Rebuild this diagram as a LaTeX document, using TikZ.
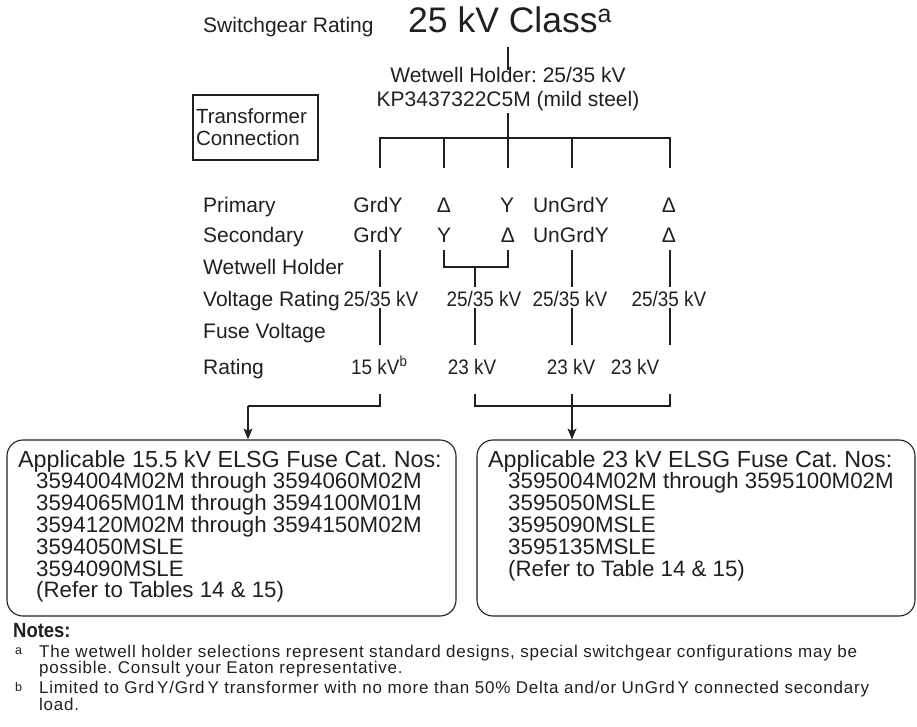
\documentclass[tikz,border=0pt]{standalone}
\usepackage{fontspec}
\setmainfont{Liberation Sans}
\newfontfamily\condfont[FakeStretch=0.9]{Liberation Sans}
\newfontfamily\notefont[LetterSpace=4.5]{Liberation Sans}
\usetikzlibrary{arrows.meta,positioning,calc}

\definecolor{ink}{HTML}{231F20}

\tikzset{
  wire/.style={draw=ink, line width=1.1pt},
  feed/.style={wire, -{Stealth[length=11pt,width=9pt,inset=2.5pt]}},
  rowlbl/.style={anchor=base west, inner sep=0pt, text=ink, font=\fontsize{21}{25}\selectfont},
  conn/.style={anchor=base, inner sep=0pt, text=ink, font=\fontsize{21}{25}\selectfont},
  kvval/.style={anchor=base, inner sep=0pt, text=ink, font=\condfont\fontsize{21}{25}\selectfont},
  classlbl/.style={anchor=base west, inner sep=0pt, text=ink, font=\fontsize{35.5}{40}\selectfont},
  tcbox/.style={draw=ink, line width=1.1pt, minimum width=125pt, minimum height=65pt,
    text width=119pt, inner sep=3pt, align=left, text=ink, font=\fontsize{20.5}{22}\selectfont},
  catbox/.style={draw=ink, line width=1.1pt, rounded corners=16pt, minimum height=176pt},
  cattext/.style={anchor=base west, inner sep=0pt, text=ink, font=\fontsize{23.3}{25}\selectfont},
  catitem/.style={cattext, font=\fontsize{22.3}{25}\selectfont},
  notetext/.style={anchor=base west, inner sep=0pt, text=ink, font=\notefont\fontsize{17}{18}\selectfont},
  notemark/.style={anchor=base west, inner sep=0pt, text=ink, font=\fontsize{12.5}{13}\selectfont},
}

\begin{document}
\frenchspacing
\begin{tikzpicture}[x=1pt,y=-1pt]
    \useasboundingbox (0,0) rectangle (917,726);

    % Header
    \node[rowlbl] (swgr) at (203,32) {Switchgear Rating};
    \node[classlbl] (cls) at (408,32) {25 kV Class\textsuperscript{a}};
    \node[conn] (holder) at (508,82) {Wetwell Holder: 25/35 kV};
    \node[conn] (holdercat) at (508,106) {KP3437322C5M (mild steel)};
    \node[tcbox] (tconn) at (255.5,127.5) {Transformer\\Connection};

    \coordinate (clsfoot) at (508,47);
    \coordinate (holdhead) at (508,70);
    \coordinate (holdfoot) at (508,113);
    \coordinate (bus) at (508,138);
    \draw[wire] (clsfoot) -- (holdhead);
    \draw[wire] (holdfoot) -- (bus);
    \foreach \n/\x in {1/380,2/444,3/508,4/572,5/670}
        \coordinate (drop\n) at (\x,168);
    \draw[wire] (drop1) |- (bus) -| (drop5);
    \foreach \n in {2,3,4}
        \draw[wire] (drop\n) -- (drop\n |- bus);

    % Row labels
    \node[rowlbl] (primlbl) at (203,212) {Primary};
    \node[rowlbl] (seclbl) at (203,242.5) {Secondary};
    \node[rowlbl] (wwlbl) at (203,274) {Wetwell Holder};
    \node[rowlbl] (vrlbl) at (203,306) {Voltage Rating};
    \node[rowlbl] (fvlbl) at (203,338) {Fuse Voltage};
    \node[rowlbl] (frlbl) at (203,374) {Rating};

    % Transformer connections
    \node[conn] (prim1) at (378,212) {GrdY};
    \node[conn] (prim2) at (444,212) {Δ};
    \node[conn] (prim3) at (507,212) {Y};
    \node[conn] (prim4) at (571,212) {UnGrdY};
    \node[conn] (prim5) at (669,212) {Δ};
    \node[conn] (sec1) at (378,242.5) {GrdY};
    \node[conn] (sec2) at (444,242.5) {Y};
    \node[conn] (sec3) at (508,242.5) {Δ};
    \node[conn] (sec4) at (571,242.5) {UnGrdY};
    \node[conn] (sec5) at (669,242.5) {Δ};

    % Wetwell holder voltage
    \foreach \n/\x in {1/380,2/444,3/508,4/572,5/670}
        \coordinate (secfoot\n) at (\x,250);
    \coordinate (merge) at (475,267);
    \coordinate (vrhead) at (475,287);
    \foreach \n in {1,4,5}
        \draw[wire] (secfoot\n) -- (secfoot\n |- vrhead);
    \draw[wire] (secfoot2) |- (merge) -| (secfoot3);
    \draw[wire] (merge) -- (vrhead);

    \node[kvval] (vr1) at (381,306) {25/35 kV};
    \node[kvval] (vr2) at (484,306) {25/35 kV};
    \node[kvval] (vr3) at (570,306) {25/35 kV};
    \node[kvval] (vr4) at (669,306) {25/35 kV};

    % Fuse voltage
    \foreach \n/\x in {1/380,2/475,3/572,4/670} {
        \coordinate (fzhead\n) at (\x,308);
        \draw[wire] (fzhead\n) -- ++(0,37);
    }
    \node[kvval, anchor=base west] (fr1) at (351,374) {15 kV\textsuperscript{b}};
    \node[kvval] (fr2) at (472,374) {23 kV};
    \node[kvval] (fr3) at (571,374) {23 kV};
    \node[kvval] (fr4) at (635,374) {23 kV};

    % Catalogue boxes
    \node[catbox, minimum width=449pt] (box15) at (231.5,528) {};
    \node[catbox, minimum width=438pt] (box23) at (696,528) {};

    \foreach \n/\x in {1/380,2/475,3/572,4/670}
        \coordinate (lo\n) at (\x,394);
    \coordinate (split15) at (248,406);
    \draw[wire] (lo1) |- (split15);
    \draw[feed] (split15) -- (split15 |- box15.north);
    \draw[wire] (lo2) |- (lo4 |- split15) -- (lo4);
    \draw[feed] (lo3) -- (lo3 |- box23.north);

    \node[cattext] (cat15head) at (18,467) {Applicable 15.5 kV ELSG Fuse Cat. Nos:};
    \foreach \t [count=\i] in {3594004M02M through 3594060M02M,
        3594065M01M through 3594100M01M,
        3594120M02M through 3594150M02M,
        3594050MSLE, 3594090MSLE, (Refer to Tables 14 \& 15)}
        \node[catitem] (cat15-\i) at (36,467+21.8*\i) {\t};
    \node[cattext] (cat23head) at (488,467) {Applicable 23 kV ELSG Fuse Cat. Nos:};
    \foreach \t [count=\i] in {3595004M02M through 3595100M02M,
        3595050MSLE, 3595090MSLE, 3595135MSLE, (Refer to Table 14 \& 15)}
        \node[catitem] (cat23-\i) at (508,467+21.8*\i) {\t};

    % Notes
    \node[notetext, font=\condfont\bfseries\fontsize{20.5}{22}\selectfont] (notes) at (13,637) {Notes:};
    \node[notemark] (marka) at (15,654) {a};
    \node[notetext] (notea1) at (39,657) {The wetwell holder selections represent standard designs, special switchgear configurations may be};
    \node[notetext] (notea2) at (39,673) {possible. Consult your Eaton representative.};
    \node[notemark] (markb) at (15,691) {b};
    \node[notetext] (noteb1) at (39,693) {Limited to Grd\,Y/Grd\,Y transformer with no more than 50\% Delta and/or UnGrd\,Y connected secondary};
    \node[notetext] (noteb2) at (39,710) {load.};
\end{tikzpicture}
\end{document}
